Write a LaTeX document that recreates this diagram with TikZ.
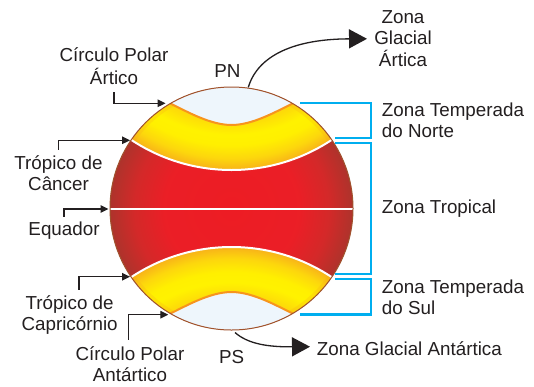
\documentclass[tikz,border=0pt]{standalone}
\usepackage{fontspec}
\setmainfont{Liberation Sans}
\usetikzlibrary{arrows.meta}
\definecolor{txt}{HTML}{231F20}
\definecolor{orng}{HTML}{F7A11A}
\definecolor{capblue}{HTML}{EEF6FC}
\definecolor{capline}{HTML}{F7941D}
\definecolor{cyanb}{HTML}{00AEEF}
\definecolor{rimc}{HTML}{A0522D}
\pgfdeclareradialshading{globered}{\pgfpoint{0bp}{0bp}}{rgb(0bp)=(0.93,0.11,0.14); rgb(14bp)=(0.92,0.12,0.15); rgb(20bp)=(0.83,0.16,0.16); rgb(25bp)=(0.68,0.2,0.17); rgb(50bp)=(0.68,0.2,0.17)}
\pgfdeclareradialshading{yband}{\pgfpoint{0bp}{0bp}}{rgb(0bp)=(0.99,0.8,0.05); rgb(16.3bp)=(0.99,0.84,0.04); rgb(18.3bp)=(1,0.95,0); rgb(19.6bp)=(1,0.94,0); rgb(21.3bp)=(0.99,0.84,0.05); rgb(22.8bp)=(0.97,0.69,0.1); rgb(25bp)=(0.97,0.65,0.1); rgb(50bp)=(0.97,0.65,0.1)}
\newcommand\mlc[1]{\begin{tabular}[t]{@{}c@{}}#1\end{tabular}}
\newcommand\mll[1]{\begin{tabular}[t]{@{}l@{}}#1\end{tabular}}
\tikzset{
  lbl/.style={font=\fontsize{18.8}{21}\selectfont, text=txt, inner sep=0pt},
  sarr/.style={draw=txt, line width=1.3, -{Triangle[length=8pt,width=7.5pt]}},
  barr/.style={draw=txt, line width=1.3, -{Triangle[length=18pt,width=19pt]}},
  bracket/.style={draw=cyanb, line width=2.2},
  wline/.style={draw=white, line width=2},
}
\begin{document}
\begin{tikzpicture}[x=1pt,y=-1pt]
\fill[white] (0,0) rectangle (534,386);
\useasboundingbox (0,0) rectangle (534,386);
\coordinate (G) at (231.5,208.5);
% globe
\begin{scope}
  \clip (G) circle (121.5);
  \shade[shading=globered] (G) circle (121.5);
  \begin{scope}
    \clip (231.5,-11.7) circle (181.7);
    \shade[shading=yband] (231.5,-11.7) circle (200);
    \draw[orng, line width=8, opacity=.2] (G) circle (121.5);
  \end{scope}
  \begin{scope}
    \clip (231.5,428.7) circle (181.7);
    \shade[shading=yband] (231.5,428.7) circle (200);
    \draw[orng, line width=8, opacity=.2] (G) circle (121.5);
  \end{scope}
  \fill[capblue] (100,80) -- (100,103.3) -- (170,103.3) .. controls (186,111) and (210,125) .. (231.5,125) .. controls (253,125) and (277,111) .. (293,103.3) -- (360,103.3) -- (360,80) -- cycle;
  \draw[capline, line width=2] (170,103.3) .. controls (186,111) and (210,125) .. (231.5,125) .. controls (253,125) and (277,111) .. (293,103.3);
  \fill[capblue] (100,337) -- (100,313.7) -- (170,313.7) .. controls (186,306) and (210,292) .. (231.5,292) .. controls (253,292) and (277,306) .. (293,313.7) -- (360,313.7) -- (360,337) -- cycle;
  \draw[capline, line width=2] (170,313.7) .. controls (186,306) and (210,292) .. (231.5,292) .. controls (253,292) and (277,306) .. (293,313.7);
  \draw[wline] (231.5,-11.7) circle (181.7);
  \draw[wline] (231.5,428.7) circle (181.7);
  \draw[wline] (100,209) -- (360,209);
\end{scope}
\draw[rimc, line width=1] (G) circle (121.5);
% brackets
\draw[bracket] (300,103.3) -| (371,137.7) -- (335,137.7);
\draw[bracket] (335,143.2) -| (371,274) -- (335,274);
\draw[bracket] (335,279.3) -| (371,314.5) -- (300,314.5);
% labels
\node[lbl, anchor=base] (pn) at (227.5,77.3) {PN};
\node[lbl, anchor=base] (ps) at (231.7,363.3) {PS};
\node[lbl, anchor=base] (zga) at (403,23) {\mlc{Zona\\Glacial\\Ártica}};
\node[lbl, anchor=base] (cpa) at (114,61.7) {\mlc{Círculo Polar\\Ártico}};
\node[lbl, anchor=base] (tc) at (58.5,169.3) {\mlc{Trópico de\\Câncer}};
\node[lbl, anchor=base] (eq) at (64,235) {\mlc{Equador}};
\node[lbl, anchor=base] (tcap) at (69.6,309.3) {\mlc{Trópico de\\Capricórnio}};
\node[lbl, anchor=base] (cpan) at (130,360.7) {\mlc{Círculo Polar\\Antártico}};
\node[lbl, anchor=base west] (ztn) at (381.7,116.7) {\mll{Zona Temperada\\do Norte}};
\node[lbl, anchor=base west] (ztr) at (381.7,213.3) {\mll{Zona Tropical}};
\node[lbl, anchor=base west] (zts) at (381.7,293.3) {\mll{Zona Temperada\\do Sul}};
\node[lbl, anchor=base west] (zgan) at (316.7,355) {Zona Glacial Antártica};
% small arrows
\coordinate (tipCPA) at (165.5,103.3);
\coordinate (tipTC) at (130,140.3);
\coordinate (tipEQ) at (108.5,209);
\coordinate (tipTCap) at (130,276.7);
\coordinate (tipCPAn) at (168.3,314.7);
\draw[sarr] ([yshift=-1.3pt]cpa.south) |- (tipCPA);
\draw[sarr] ([yshift=4.6pt]tc.north) |- (tipTC);
\draw[sarr] ([yshift=3.6pt]eq.north) |- (tipEQ);
\draw[sarr] ([xshift=9.4pt,yshift=4.6pt]tcap.north) |- (tipTCap);
\draw[sarr] ([xshift=-1.7pt,yshift=6pt]cpan.north) |- (tipCPAn);
% big arrows
\coordinate (pnS) at (248.3,87.3);
\coordinate (psS) at (235,332.5);
\coordinate (zgaTip) at (367,38.8);
\coordinate (zganTip) at (310,346.7);
\draw[barr] (pnS) .. controls (258,55) and (295,39) .. (zgaTip);
\draw[barr] (psS) .. controls (248,344) and (268,347) .. (zganTip);
\end{tikzpicture}
\end{document}
